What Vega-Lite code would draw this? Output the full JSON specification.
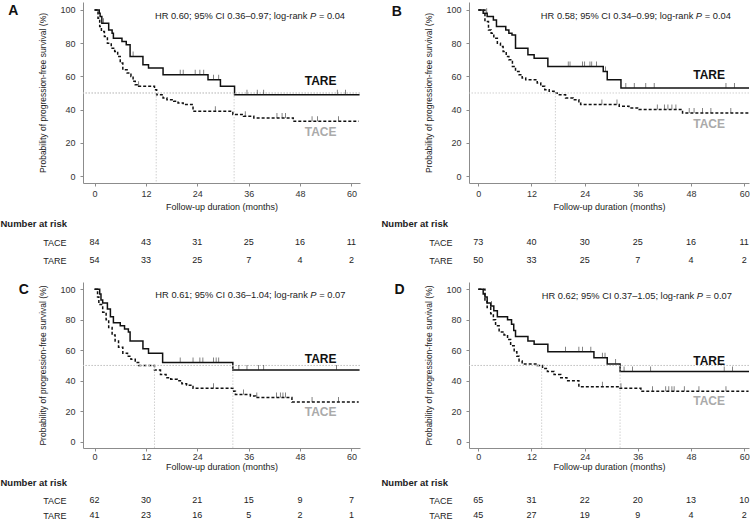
{
"$schema":"https://vega.github.io/schema/vega-lite/v6.json",
"padding":{"left":0,"top":2,"right":0,"bottom":0},
"config":{"view":{"stroke":null},"font":"Liberation Sans","axis":{"domainColor":"#8c8c8c","tickColor":"#8c8c8c","labelColor":"#333","labelFontSize":9,"titleFontSize":9,"titleFontWeight":"normal","titleColor":"#222","grid":false,"tickSize":3}},
"datasets":{
"curves":[
{"p":"A","g":"TARE","t":0,"s":100},{"p":"A","g":"TARE","t":1.1,"s":98},{"p":"A","g":"TARE","t":1.3,"s":96},{"p":"A","g":"TARE","t":1.7,"s":92},{"p":"A","g":"TARE","t":3.3,"s":88},{"p":"A","g":"TARE","t":4.1,"s":86},{"p":"A","g":"TARE","t":4.4,"s":83},{"p":"A","g":"TARE","t":6.4,"s":81},{"p":"A","g":"TARE","t":7.4,"s":79},{"p":"A","g":"TARE","t":8.3,"s":72},{"p":"A","g":"TARE","t":11.3,"s":67},{"p":"A","g":"TARE","t":12.6,"s":65},{"p":"A","g":"TARE","t":16.0,"s":61},{"p":"A","g":"TARE","t":26.5,"s":58},{"p":"A","g":"TARE","t":29.4,"s":54},{"p":"A","g":"TARE","t":32.7,"s":49},{"p":"A","g":"TARE","t":61.9,"s":49},
{"p":"A","g":"TACE","t":0,"s":100},{"p":"A","g":"TACE","t":0.8,"s":95},{"p":"A","g":"TACE","t":1.2,"s":90},{"p":"A","g":"TACE","t":1.6,"s":87},{"p":"A","g":"TACE","t":2.3,"s":84},{"p":"A","g":"TACE","t":3.0,"s":80},{"p":"A","g":"TACE","t":3.9,"s":77},{"p":"A","g":"TACE","t":4.7,"s":75},{"p":"A","g":"TACE","t":5.4,"s":72},{"p":"A","g":"TACE","t":6.0,"s":68},{"p":"A","g":"TACE","t":6.6,"s":64},{"p":"A","g":"TACE","t":7.6,"s":62},{"p":"A","g":"TACE","t":8.5,"s":60},{"p":"A","g":"TACE","t":9.0,"s":57},{"p":"A","g":"TACE","t":9.5,"s":55},{"p":"A","g":"TACE","t":10.3,"s":54},{"p":"A","g":"TACE","t":14.0,"s":52},{"p":"A","g":"TACE","t":14.5,"s":49},{"p":"A","g":"TACE","t":16.0,"s":47},{"p":"A","g":"TACE","t":16.9,"s":46},{"p":"A","g":"TACE","t":18.5,"s":45},{"p":"A","g":"TACE","t":19.5,"s":44},{"p":"A","g":"TACE","t":20.7,"s":43},{"p":"A","g":"TACE","t":23.0,"s":39},{"p":"A","g":"TACE","t":32.3,"s":37},{"p":"A","g":"TACE","t":34.8,"s":36},{"p":"A","g":"TACE","t":37.2,"s":35},{"p":"A","g":"TACE","t":46.4,"s":33},{"p":"A","g":"TACE","t":61.7,"s":33},
{"p":"B","g":"TARE","t":0,"s":100},{"p":"B","g":"TARE","t":1.1,"s":98},{"p":"B","g":"TARE","t":2.0,"s":96},{"p":"B","g":"TARE","t":3.4,"s":94},{"p":"B","g":"TARE","t":4.1,"s":90},{"p":"B","g":"TARE","t":6.2,"s":88},{"p":"B","g":"TARE","t":6.9,"s":86},{"p":"B","g":"TARE","t":7.6,"s":85},{"p":"B","g":"TARE","t":8.4,"s":77},{"p":"B","g":"TARE","t":11.2,"s":73},{"p":"B","g":"TARE","t":12.6,"s":71},{"p":"B","g":"TARE","t":15.7,"s":66},{"p":"B","g":"TARE","t":28.2,"s":63},{"p":"B","g":"TARE","t":29.1,"s":58},{"p":"B","g":"TARE","t":32.2,"s":53},{"p":"B","g":"TARE","t":61.1,"s":53},
{"p":"B","g":"TACE","t":0,"s":100},{"p":"B","g":"TACE","t":1.5,"s":93},{"p":"B","g":"TACE","t":2.3,"s":88},{"p":"B","g":"TACE","t":2.9,"s":86},{"p":"B","g":"TACE","t":3.5,"s":83},{"p":"B","g":"TACE","t":4.3,"s":80},{"p":"B","g":"TACE","t":5.0,"s":78},{"p":"B","g":"TACE","t":5.6,"s":75},{"p":"B","g":"TACE","t":6.3,"s":72},{"p":"B","g":"TACE","t":6.9,"s":70},{"p":"B","g":"TACE","t":7.7,"s":66},{"p":"B","g":"TACE","t":8.4,"s":63},{"p":"B","g":"TACE","t":9.2,"s":61},{"p":"B","g":"TACE","t":9.9,"s":59},{"p":"B","g":"TACE","t":10.7,"s":58},{"p":"B","g":"TACE","t":13.3,"s":56},{"p":"B","g":"TACE","t":14.1,"s":54},{"p":"B","g":"TACE","t":15.0,"s":52},{"p":"B","g":"TACE","t":16.0,"s":51},{"p":"B","g":"TACE","t":17.1,"s":50},{"p":"B","g":"TACE","t":17.8,"s":49},{"p":"B","g":"TACE","t":19.7,"s":47},{"p":"B","g":"TACE","t":21.4,"s":46},{"p":"B","g":"TACE","t":22.7,"s":44},{"p":"B","g":"TACE","t":23.1,"s":43},{"p":"B","g":"TACE","t":31.8,"s":42},{"p":"B","g":"TACE","t":34.0,"s":41},{"p":"B","g":"TACE","t":36.3,"s":40},{"p":"B","g":"TACE","t":46.1,"s":38},{"p":"B","g":"TACE","t":61.0,"s":38},
{"p":"C","g":"TARE","t":0,"s":100},{"p":"C","g":"TARE","t":1.2,"s":97},{"p":"C","g":"TARE","t":1.5,"s":93},{"p":"C","g":"TARE","t":1.9,"s":91},{"p":"C","g":"TARE","t":3.0,"s":87},{"p":"C","g":"TARE","t":3.7,"s":82},{"p":"C","g":"TARE","t":4.4,"s":78},{"p":"C","g":"TARE","t":6.0,"s":76},{"p":"C","g":"TARE","t":7.0,"s":74},{"p":"C","g":"TARE","t":7.9,"s":72},{"p":"C","g":"TARE","t":8.3,"s":66},{"p":"C","g":"TARE","t":11.3,"s":61},{"p":"C","g":"TARE","t":12.6,"s":58},{"p":"C","g":"TARE","t":15.9,"s":52},{"p":"C","g":"TARE","t":32.3,"s":47},{"p":"C","g":"TARE","t":61.9,"s":47},
{"p":"C","g":"TACE","t":0,"s":100},{"p":"C","g":"TACE","t":0.7,"s":95},{"p":"C","g":"TACE","t":1.0,"s":90},{"p":"C","g":"TACE","t":1.9,"s":85},{"p":"C","g":"TACE","t":2.7,"s":80},{"p":"C","g":"TACE","t":3.3,"s":75},{"p":"C","g":"TACE","t":4.1,"s":70},{"p":"C","g":"TACE","t":4.8,"s":66},{"p":"C","g":"TACE","t":5.6,"s":62},{"p":"C","g":"TACE","t":6.6,"s":58},{"p":"C","g":"TACE","t":7.7,"s":56},{"p":"C","g":"TACE","t":8.5,"s":54},{"p":"C","g":"TACE","t":9.5,"s":52},{"p":"C","g":"TACE","t":10.3,"s":50},{"p":"C","g":"TACE","t":14.0,"s":47},{"p":"C","g":"TACE","t":15.4,"s":44},{"p":"C","g":"TACE","t":16.7,"s":42},{"p":"C","g":"TACE","t":17.8,"s":41},{"p":"C","g":"TACE","t":19.3,"s":40},{"p":"C","g":"TACE","t":20.4,"s":38},{"p":"C","g":"TACE","t":21.5,"s":37},{"p":"C","g":"TACE","t":23.0,"s":35},{"p":"C","g":"TACE","t":32.5,"s":33},{"p":"C","g":"TACE","t":32.9,"s":31},{"p":"C","g":"TACE","t":36.4,"s":30},{"p":"C","g":"TACE","t":37.6,"s":29},{"p":"C","g":"TACE","t":46.1,"s":26},{"p":"C","g":"TACE","t":61.7,"s":26},
{"p":"D","g":"TARE","t":0,"s":100},{"p":"D","g":"TARE","t":1.1,"s":97},{"p":"D","g":"TARE","t":1.5,"s":95},{"p":"D","g":"TARE","t":2.0,"s":91},{"p":"D","g":"TARE","t":2.8,"s":89},{"p":"D","g":"TARE","t":3.5,"s":86},{"p":"D","g":"TARE","t":4.3,"s":82},{"p":"D","g":"TARE","t":6.6,"s":80},{"p":"D","g":"TARE","t":7.5,"s":77},{"p":"D","g":"TARE","t":8.0,"s":73},{"p":"D","g":"TARE","t":8.4,"s":69},{"p":"D","g":"TARE","t":11.2,"s":66},{"p":"D","g":"TARE","t":12.6,"s":64},{"p":"D","g":"TARE","t":15.7,"s":59},{"p":"D","g":"TARE","t":26.1,"s":55},{"p":"D","g":"TARE","t":29.1,"s":51},{"p":"D","g":"TARE","t":32.0,"s":46},{"p":"D","g":"TARE","t":61.1,"s":46},
{"p":"D","g":"TACE","t":0,"s":100},{"p":"D","g":"TACE","t":1.5,"s":92},{"p":"D","g":"TACE","t":2.0,"s":88},{"p":"D","g":"TACE","t":2.8,"s":84},{"p":"D","g":"TACE","t":3.4,"s":80},{"p":"D","g":"TACE","t":3.9,"s":76},{"p":"D","g":"TACE","t":4.7,"s":72},{"p":"D","g":"TACE","t":5.8,"s":70},{"p":"D","g":"TACE","t":6.6,"s":67},{"p":"D","g":"TACE","t":7.3,"s":63},{"p":"D","g":"TACE","t":8.1,"s":59},{"p":"D","g":"TACE","t":8.7,"s":56},{"p":"D","g":"TACE","t":9.2,"s":53},{"p":"D","g":"TACE","t":9.9,"s":51},{"p":"D","g":"TACE","t":13.3,"s":50},{"p":"D","g":"TACE","t":14.5,"s":48},{"p":"D","g":"TACE","t":15.6,"s":46},{"p":"D","g":"TACE","t":17.1,"s":44},{"p":"D","g":"TACE","t":18.6,"s":42},{"p":"D","g":"TACE","t":20.0,"s":40},{"p":"D","g":"TACE","t":22.7,"s":36},{"p":"D","g":"TACE","t":31.8,"s":35},{"p":"D","g":"TACE","t":36.7,"s":33},{"p":"D","g":"TACE","t":61.0,"s":33}
],
"cens":[
{"p":"A","t":2.1,"s":92},{"p":"A","t":9.0,"s":72},{"p":"A","t":20.0,"s":61},{"p":"A","t":20.7,"s":61},{"p":"A","t":23.5,"s":61},{"p":"A","t":24.6,"s":61},{"p":"A","t":25.5,"s":61},{"p":"A","t":27.8,"s":58},{"p":"A","t":29.0,"s":58},{"p":"A","t":35.6,"s":49},{"p":"A","t":38.0,"s":49},{"p":"A","t":39.5,"s":49},{"p":"A","t":56.7,"s":49},{"p":"A","t":58.6,"s":49},
{"p":"A","t":10.3,"s":54},{"p":"A","t":28.2,"s":39},{"p":"A","t":35.2,"s":36},{"p":"A","t":42.6,"s":35},{"p":"A","t":43.8,"s":35},{"p":"A","t":44.6,"s":35},{"p":"A","t":50.8,"s":33},{"p":"A","t":52.1,"s":33},{"p":"A","t":57.0,"s":33},
{"p":"B","t":1.9,"s":98},{"p":"B","t":20.3,"s":66},{"p":"B","t":20.7,"s":66},{"p":"B","t":23.5,"s":66},{"p":"B","t":24.0,"s":66},{"p":"B","t":25.2,"s":66},{"p":"B","t":25.6,"s":66},{"p":"B","t":26.7,"s":66},{"p":"B","t":28.7,"s":63},{"p":"B","t":33.3,"s":53},{"p":"B","t":35.2,"s":53},{"p":"B","t":37.8,"s":53},{"p":"B","t":39.7,"s":53},{"p":"B","t":55.9,"s":53},{"p":"B","t":57.8,"s":53},
{"p":"B","t":27.9,"s":43},{"p":"B","t":31.3,"s":43},{"p":"B","t":40.4,"s":40},{"p":"B","t":42.0,"s":40},{"p":"B","t":42.8,"s":40},{"p":"B","t":43.7,"s":40},{"p":"B","t":44.6,"s":40},{"p":"B","t":47.6,"s":38},{"p":"B","t":48.7,"s":38},{"p":"B","t":50.6,"s":38},{"p":"B","t":52.5,"s":38},{"p":"B","t":57.0,"s":38},
{"p":"C","t":20.0,"s":52},{"p":"C","t":23.0,"s":52},{"p":"C","t":24.6,"s":52},{"p":"C","t":25.3,"s":52},{"p":"C","t":27.8,"s":52},{"p":"C","t":28.4,"s":52},{"p":"C","t":29.0,"s":52},{"p":"C","t":33.7,"s":47},{"p":"C","t":35.6,"s":47},{"p":"C","t":38.3,"s":47},{"p":"C","t":39.5,"s":47},{"p":"C","t":56.5,"s":47},
{"p":"C","t":27.8,"s":35},{"p":"C","t":34.8,"s":31},{"p":"C","t":37.9,"s":29},{"p":"C","t":42.5,"s":29},{"p":"C","t":43.4,"s":29},{"p":"C","t":44.0,"s":29},{"p":"C","t":44.6,"s":29},{"p":"C","t":50.8,"s":26},{"p":"C","t":57.0,"s":26},
{"p":"D","t":3.0,"s":89},{"p":"D","t":19.7,"s":59},{"p":"D","t":22.7,"s":59},{"p":"D","t":23.5,"s":59},{"p":"D","t":25.4,"s":59},{"p":"D","t":28.0,"s":55},{"p":"D","t":28.6,"s":55},{"p":"D","t":31.0,"s":51},{"p":"D","t":32.9,"s":46},{"p":"D","t":34.8,"s":46},{"p":"D","t":38.9,"s":46},{"p":"D","t":55.5,"s":46},{"p":"D","t":57.4,"s":46},
{"p":"D","t":28.0,"s":36},{"p":"D","t":32.2,"s":35},{"p":"D","t":39.3,"s":33},{"p":"D","t":42.3,"s":33},{"p":"D","t":43.0,"s":33},{"p":"D","t":43.7,"s":33},{"p":"D","t":44.2,"s":33},{"p":"D","t":46.5,"s":33},{"p":"D","t":49.8,"s":33},{"p":"D","t":55.9,"s":33}
],
"risk":[
{"p":"A","g":"TACE","t":0,"n":84},{"p":"A","g":"TACE","t":12,"n":43},{"p":"A","g":"TACE","t":24,"n":31},{"p":"A","g":"TACE","t":36,"n":25},{"p":"A","g":"TACE","t":48,"n":16},{"p":"A","g":"TACE","t":60,"n":11},
{"p":"A","g":"TARE","t":0,"n":54},{"p":"A","g":"TARE","t":12,"n":33},{"p":"A","g":"TARE","t":24,"n":25},{"p":"A","g":"TARE","t":36,"n":7},{"p":"A","g":"TARE","t":48,"n":4},{"p":"A","g":"TARE","t":60,"n":2},
{"p":"B","g":"TACE","t":0,"n":73},{"p":"B","g":"TACE","t":12,"n":40},{"p":"B","g":"TACE","t":24,"n":30},{"p":"B","g":"TACE","t":36,"n":25},{"p":"B","g":"TACE","t":48,"n":16},{"p":"B","g":"TACE","t":60,"n":11},
{"p":"B","g":"TARE","t":0,"n":50},{"p":"B","g":"TARE","t":12,"n":33},{"p":"B","g":"TARE","t":24,"n":25},{"p":"B","g":"TARE","t":36,"n":7},{"p":"B","g":"TARE","t":48,"n":4},{"p":"B","g":"TARE","t":60,"n":2},
{"p":"C","g":"TACE","t":0,"n":62},{"p":"C","g":"TACE","t":12,"n":30},{"p":"C","g":"TACE","t":24,"n":21},{"p":"C","g":"TACE","t":36,"n":15},{"p":"C","g":"TACE","t":48,"n":9},{"p":"C","g":"TACE","t":60,"n":7},
{"p":"C","g":"TARE","t":0,"n":41},{"p":"C","g":"TARE","t":12,"n":23},{"p":"C","g":"TARE","t":24,"n":16},{"p":"C","g":"TARE","t":36,"n":5},{"p":"C","g":"TARE","t":48,"n":2},{"p":"C","g":"TARE","t":60,"n":1},
{"p":"D","g":"TACE","t":0,"n":65},{"p":"D","g":"TACE","t":12,"n":31},{"p":"D","g":"TACE","t":24,"n":22},{"p":"D","g":"TACE","t":36,"n":20},{"p":"D","g":"TACE","t":48,"n":13},{"p":"D","g":"TACE","t":60,"n":10},
{"p":"D","g":"TARE","t":0,"n":45},{"p":"D","g":"TARE","t":12,"n":27},{"p":"D","g":"TARE","t":24,"n":19},{"p":"D","g":"TARE","t":36,"n":9},{"p":"D","g":"TARE","t":48,"n":4},{"p":"D","g":"TARE","t":60,"n":2}
],
"med":[{"p":"A","g":"TACE","m":14.4},{"p":"A","g":"TARE","m":32.6},{"p":"B","g":"TACE","m":17.4},{"p":"C","g":"TACE","m":14.0},{"p":"C","g":"TARE","m":32.3},{"p":"D","g":"TACE","m":14.3},{"p":"D","g":"TARE","m":32.0}],
"lab":[{"g":"TARE"},{"g":"TACE"}],
"notes":[
{"p":"A","hr":"HR 0.60; 95% CI 0.36–0.97; log-rank","pi":"P","pv":"= 0.04"},
{"p":"B","hr":"HR 0.58; 95% CI 0.34–0.99; log-rank","pi":"P","pv":"= 0.04"},
{"p":"C","hr":"HR 0.61; 95% CI 0.36–1.04; log-rank","pi":"P","pv":"= 0.07"},
{"p":"D","hr":"HR 0.62; 95% CI 0.37–1.05; log-rank","pi":"P","pv":"= 0.07"}
]
},
"concat":[
{"vconcat":[
 {"width":277,"height":181,"layer":[
  {"data":{"name":"curves"},"transform":[{"filter":"datum.p==='A'"}],"mark":{"type":"line","interpolate":"step-after","color":"#111","strokeWidth":1.5},"encoding":{"x":{"field":"t","type":"quantitative","scale":{"domain":[-2.7,62],"nice":false,"zero":false},"axis":{"values":[0,12,24,36,48,60],"title":"Follow-up duration (months)","labelPadding":3,"titlePadding":4.5,"labelOverlap":false}},"y":{"field":"s","type":"quantitative","scale":{"domain":[-4.2,104.8],"nice":false,"zero":false},"axis":{"tickCount":6,"title":"Probability of progression-free survival (%)","labelPadding":5,"titlePadding":12,"titleFontSize":8.5,"labelOverlap":false}},"strokeDash":{"field":"g","type":"nominal","scale":{"domain":["TARE","TACE"],"range":[[1,0],[3,2]]},"legend":null}}},
  {"data":{"name":"med"},"transform":[{"filter":"datum.p==='A'"}],"mark":{"type":"rule","color":"#c4c4c4","strokeDash":[1.5,1.5],"strokeWidth":0.8},"encoding":{"y":{"datum":50,"type":"quantitative"}}},
  {"data":{"name":"med"},"transform":[{"filter":"datum.p==='A'"}],"mark":{"type":"rule","color":"#c4c4c4","strokeDash":[1.5,1.5],"strokeWidth":0.8},"encoding":{"x":{"field":"m","type":"quantitative"},"y":{"datum":50,"type":"quantitative"},"y2":{"datum":-4.2}}},
  {"data":{"name":"cens"},"transform":[{"filter":"datum.p==='A'"}],"mark":{"type":"tick","orient":"vertical","size":5,"thickness":0.8,"color":"#222","yOffset":-2.5},"encoding":{"x":{"field":"t","type":"quantitative"},"y":{"field":"s","type":"quantitative"}}},
  {"data":{"name":"lab"},"transform":[{"filter":"datum.g==='TARE'"}],"mark":{"type":"text","fontSize":12,"fontWeight":"bold","color":"#111"},"encoding":{"x":{"datum":52.8,"type":"quantitative"},"y":{"datum":57,"type":"quantitative"},"text":{"field":"g"}}},
  {"data":{"name":"lab"},"transform":[{"filter":"datum.g==='TACE'"}],"mark":{"type":"text","fontSize":12,"fontWeight":"bold","color":"#aaaaaa"},"encoding":{"x":{"datum":52.8,"type":"quantitative"},"y":{"datum":26.4,"type":"quantitative"},"text":{"field":"g"}}},
  {"data":{"name":"notes"},"transform":[{"filter":"datum.p==='A'"}],"mark":{"type":"text","align":"right","fontSize":9.3,"dx":-2.5,"color":"#222"},"encoding":{"x":{"datum":50.3,"type":"quantitative"},"y":{"datum":96.6,"type":"quantitative"},"text":{"field":"hr"}}},
  {"data":{"name":"notes"},"transform":[{"filter":"datum.p==='A'"}],"mark":{"type":"text","align":"left","fontSize":9.3,"fontStyle":"italic","color":"#222"},"encoding":{"x":{"datum":50.3,"type":"quantitative"},"y":{"datum":96.6,"type":"quantitative"},"text":{"field":"pi"}}},
  {"data":{"name":"notes"},"transform":[{"filter":"datum.p==='A'"}],"mark":{"type":"text","align":"left","fontSize":9.3,"dx":9,"color":"#222"},"encoding":{"x":{"datum":50.3,"type":"quantitative"},"y":{"datum":96.6,"type":"quantitative"},"text":{"field":"pv"}}},
  {"data":{"name":"notes"},"transform":[{"filter":"datum.p==='A'"}],"mark":{"type":"text","fontSize":14,"fontWeight":"bold","color":"#111"},"encoding":{"x":{"datum":-19,"type":"quantitative"},"y":{"datum":99.5,"type":"quantitative"},"text":{"field":"p"}}}
 ]},
 {"width":277,"height":36,"data":{"name":"risk"},"transform":[{"filter":"datum.p==='A'"}],"mark":{"type":"text","fontSize":9,"color":"#222"},"encoding":{"x":{"field":"t","type":"quantitative","scale":{"domain":[-2.7,62],"nice":false,"zero":false},"axis":null},"y":{"field":"g","type":"nominal","scale":{"domain":["TACE","TARE"]},"axis":{"title":"Number at risk","titleAngle":0,"titleAlign":"left","titleBaseline":"middle","titleX":-83,"titleY":-10,"titleFontWeight":"bold","titleFontSize":9.5,"titleColor":"#222","labelColor":"#222","labelFontSize":9,"ticks":false,"tickSize":0,"domain":false,"labelPadding":17}},"text":{"field":"n"}}}
],"spacing":6},
{"vconcat":[
 {"width":280,"height":181,"layer":[
  {"data":{"name":"curves"},"transform":[{"filter":"datum.p==='B'"}],"mark":{"type":"line","interpolate":"step-after","color":"#111","strokeWidth":1.5},"encoding":{"x":{"field":"t","type":"quantitative","scale":{"domain":[-2.1,61.1],"nice":false,"zero":false},"axis":{"values":[0,12,24,36,48,60],"title":"Follow-up duration (months)","labelPadding":3,"titlePadding":4.5,"labelOverlap":false}},"y":{"field":"s","type":"quantitative","scale":{"domain":[-4.2,104.8],"nice":false,"zero":false},"axis":{"tickCount":6,"title":"Probability of progression-free survival (%)","labelPadding":5,"titlePadding":12,"titleFontSize":8.5,"labelOverlap":false}},"strokeDash":{"field":"g","type":"nominal","scale":{"domain":["TARE","TACE"],"range":[[1,0],[3,2]]},"legend":null}}},
  {"data":{"name":"med"},"transform":[{"filter":"datum.p==='B'"}],"mark":{"type":"rule","color":"#c4c4c4","strokeDash":[1.5,1.5],"strokeWidth":0.8},"encoding":{"y":{"datum":50,"type":"quantitative"}}},
  {"data":{"name":"med"},"transform":[{"filter":"datum.p==='B'"}],"mark":{"type":"rule","color":"#c4c4c4","strokeDash":[1.5,1.5],"strokeWidth":0.8},"encoding":{"x":{"field":"m","type":"quantitative"},"y":{"datum":50,"type":"quantitative"},"y2":{"datum":-4.2}}},
  {"data":{"name":"cens"},"transform":[{"filter":"datum.p==='B'"}],"mark":{"type":"tick","orient":"vertical","size":5,"thickness":0.8,"color":"#222","yOffset":-2.5},"encoding":{"x":{"field":"t","type":"quantitative"},"y":{"field":"s","type":"quantitative"}}},
  {"data":{"name":"lab"},"transform":[{"filter":"datum.g==='TARE'"}],"mark":{"type":"text","fontSize":12,"fontWeight":"bold","color":"#111"},"encoding":{"x":{"datum":52.1,"type":"quantitative"},"y":{"datum":61,"type":"quantitative"},"text":{"field":"g"}}},
  {"data":{"name":"lab"},"transform":[{"filter":"datum.g==='TACE'"}],"mark":{"type":"text","fontSize":12,"fontWeight":"bold","color":"#aaaaaa"},"encoding":{"x":{"datum":52.1,"type":"quantitative"},"y":{"datum":31.4,"type":"quantitative"},"text":{"field":"g"}}},
  {"data":{"name":"notes"},"transform":[{"filter":"datum.p==='B'"}],"mark":{"type":"text","align":"right","fontSize":9.3,"dx":-2.5,"color":"#222"},"encoding":{"x":{"datum":49.1,"type":"quantitative"},"y":{"datum":96.6,"type":"quantitative"},"text":{"field":"hr"}}},
  {"data":{"name":"notes"},"transform":[{"filter":"datum.p==='B'"}],"mark":{"type":"text","align":"left","fontSize":9.3,"fontStyle":"italic","color":"#222"},"encoding":{"x":{"datum":49.1,"type":"quantitative"},"y":{"datum":96.6,"type":"quantitative"},"text":{"field":"pi"}}},
  {"data":{"name":"notes"},"transform":[{"filter":"datum.p==='B'"}],"mark":{"type":"text","align":"left","fontSize":9.3,"dx":9,"color":"#222"},"encoding":{"x":{"datum":49.1,"type":"quantitative"},"y":{"datum":96.6,"type":"quantitative"},"text":{"field":"pv"}}},
  {"data":{"name":"notes"},"transform":[{"filter":"datum.p==='B'"}],"mark":{"type":"text","fontSize":14,"fontWeight":"bold","color":"#111"},"encoding":{"x":{"datum":-18.4,"type":"quantitative"},"y":{"datum":98.8,"type":"quantitative"},"text":{"field":"p"}}}
 ]},
 {"width":280,"height":36,"data":{"name":"risk"},"transform":[{"filter":"datum.p==='B'"}],"mark":{"type":"text","fontSize":9,"color":"#222"},"encoding":{"x":{"field":"t","type":"quantitative","scale":{"domain":[-2.1,61.1],"nice":false,"zero":false},"axis":null},"y":{"field":"g","type":"nominal","scale":{"domain":["TACE","TARE"]},"axis":{"title":"Number at risk","titleAngle":0,"titleAlign":"left","titleBaseline":"middle","titleX":-88,"titleY":-10,"titleFontWeight":"bold","titleFontSize":9.5,"titleColor":"#222","labelColor":"#222","labelFontSize":9,"ticks":false,"tickSize":0,"domain":false,"labelPadding":17}},"text":{"field":"n"}}}
],"spacing":6},
{"vconcat":[
 {"width":277,"height":166,"layer":[
  {"data":{"name":"curves"},"transform":[{"filter":"datum.p==='C'"}],"mark":{"type":"line","interpolate":"step-after","color":"#111","strokeWidth":1.5},"encoding":{"x":{"field":"t","type":"quantitative","scale":{"domain":[-2.7,62],"nice":false,"zero":false},"axis":{"values":[0,12,24,36,48,60],"title":"Follow-up duration (months)","labelPadding":1,"titlePadding":1,"labelOverlap":false}},"y":{"field":"s","type":"quantitative","scale":{"domain":[-4.2,104.8],"nice":false,"zero":false},"axis":{"tickCount":6,"title":"Probability of progression-free survival (%)","labelPadding":5,"titlePadding":12,"titleFontSize":8.5,"labelOverlap":false}},"strokeDash":{"field":"g","type":"nominal","scale":{"domain":["TARE","TACE"],"range":[[1,0],[3,2]]},"legend":null}}},
  {"data":{"name":"med"},"transform":[{"filter":"datum.p==='C'"}],"mark":{"type":"rule","color":"#c4c4c4","strokeDash":[1.5,1.5],"strokeWidth":0.8},"encoding":{"y":{"datum":50,"type":"quantitative"}}},
  {"data":{"name":"med"},"transform":[{"filter":"datum.p==='C'"}],"mark":{"type":"rule","color":"#c4c4c4","strokeDash":[1.5,1.5],"strokeWidth":0.8},"encoding":{"x":{"field":"m","type":"quantitative"},"y":{"datum":50,"type":"quantitative"},"y2":{"datum":-4.2}}},
  {"data":{"name":"cens"},"transform":[{"filter":"datum.p==='C'"}],"mark":{"type":"tick","orient":"vertical","size":5,"thickness":0.8,"color":"#222","yOffset":-2.5},"encoding":{"x":{"field":"t","type":"quantitative"},"y":{"field":"s","type":"quantitative"}}},
  {"data":{"name":"lab"},"transform":[{"filter":"datum.g==='TARE'"}],"mark":{"type":"text","fontSize":12,"fontWeight":"bold","color":"#111"},"encoding":{"x":{"datum":52.8,"type":"quantitative"},"y":{"datum":54.3,"type":"quantitative"},"text":{"field":"g"}}},
  {"data":{"name":"lab"},"transform":[{"filter":"datum.g==='TACE'"}],"mark":{"type":"text","fontSize":12,"fontWeight":"bold","color":"#aaaaaa"},"encoding":{"x":{"datum":52.8,"type":"quantitative"},"y":{"datum":19.3,"type":"quantitative"},"text":{"field":"g"}}},
  {"data":{"name":"notes"},"transform":[{"filter":"datum.p==='C'"}],"mark":{"type":"text","align":"right","fontSize":9.3,"dx":-2.5,"color":"#222"},"encoding":{"x":{"datum":50.4,"type":"quantitative"},"y":{"datum":96.1,"type":"quantitative"},"text":{"field":"hr"}}},
  {"data":{"name":"notes"},"transform":[{"filter":"datum.p==='C'"}],"mark":{"type":"text","align":"left","fontSize":9.3,"fontStyle":"italic","color":"#222"},"encoding":{"x":{"datum":50.4,"type":"quantitative"},"y":{"datum":96.1,"type":"quantitative"},"text":{"field":"pi"}}},
  {"data":{"name":"notes"},"transform":[{"filter":"datum.p==='C'"}],"mark":{"type":"text","align":"left","fontSize":9.3,"dx":9,"color":"#222"},"encoding":{"x":{"datum":50.4,"type":"quantitative"},"y":{"datum":96.1,"type":"quantitative"},"text":{"field":"pv"}}},
  {"data":{"name":"notes"},"transform":[{"filter":"datum.p==='C'"}],"mark":{"type":"text","fontSize":14,"fontWeight":"bold","color":"#111"},"encoding":{"x":{"datum":-16.5,"type":"quantitative"},"y":{"datum":99.3,"type":"quantitative"},"text":{"field":"p"}}}
 ]},
 {"width":277,"height":29.6,"data":{"name":"risk"},"transform":[{"filter":"datum.p==='C'"}],"mark":{"type":"text","fontSize":9,"color":"#222"},"encoding":{"x":{"field":"t","type":"quantitative","scale":{"domain":[-2.7,62],"nice":false,"zero":false},"axis":null},"y":{"field":"g","type":"nominal","scale":{"domain":["TACE","TARE"]},"axis":{"title":"Number at risk","titleAngle":0,"titleAlign":"left","titleBaseline":"middle","titleX":-83,"titleY":-10.5,"titleFontWeight":"bold","titleFontSize":9.5,"titleColor":"#222","labelColor":"#222","labelFontSize":9,"ticks":false,"tickSize":0,"domain":false,"labelPadding":17}},"text":{"field":"n"}}}
],"spacing":6},
{"vconcat":[
 {"width":280,"height":166,"layer":[
  {"data":{"name":"curves"},"transform":[{"filter":"datum.p==='D'"}],"mark":{"type":"line","interpolate":"step-after","color":"#111","strokeWidth":1.5},"encoding":{"x":{"field":"t","type":"quantitative","scale":{"domain":[-2.1,61.1],"nice":false,"zero":false},"axis":{"values":[0,12,24,36,48,60],"title":"Follow-up duration (months)","labelPadding":1,"titlePadding":1,"labelOverlap":false}},"y":{"field":"s","type":"quantitative","scale":{"domain":[-4.2,104.8],"nice":false,"zero":false},"axis":{"tickCount":6,"title":"Probability of progression-free survival (%)","labelPadding":5,"titlePadding":12,"titleFontSize":8.5,"labelOverlap":false}},"strokeDash":{"field":"g","type":"nominal","scale":{"domain":["TARE","TACE"],"range":[[1,0],[3,2]]},"legend":null}}},
  {"data":{"name":"med"},"transform":[{"filter":"datum.p==='D'"}],"mark":{"type":"rule","color":"#c4c4c4","strokeDash":[1.5,1.5],"strokeWidth":0.8},"encoding":{"y":{"datum":50,"type":"quantitative"}}},
  {"data":{"name":"med"},"transform":[{"filter":"datum.p==='D'"}],"mark":{"type":"rule","color":"#c4c4c4","strokeDash":[1.5,1.5],"strokeWidth":0.8},"encoding":{"x":{"field":"m","type":"quantitative"},"y":{"datum":50,"type":"quantitative"},"y2":{"datum":-4.2}}},
  {"data":{"name":"cens"},"transform":[{"filter":"datum.p==='D'"}],"mark":{"type":"tick","orient":"vertical","size":5,"thickness":0.8,"color":"#222","yOffset":-2.5},"encoding":{"x":{"field":"t","type":"quantitative"},"y":{"field":"s","type":"quantitative"}}},
  {"data":{"name":"lab"},"transform":[{"filter":"datum.g==='TARE'"}],"mark":{"type":"text","fontSize":12,"fontWeight":"bold","color":"#111"},"encoding":{"x":{"datum":52.1,"type":"quantitative"},"y":{"datum":52.7,"type":"quantitative"},"text":{"field":"g"}}},
  {"data":{"name":"lab"},"transform":[{"filter":"datum.g==='TACE'"}],"mark":{"type":"text","fontSize":12,"fontWeight":"bold","color":"#aaaaaa"},"encoding":{"x":{"datum":52.1,"type":"quantitative"},"y":{"datum":26.4,"type":"quantitative"},"text":{"field":"g"}}},
  {"data":{"name":"notes"},"transform":[{"filter":"datum.p==='D'"}],"mark":{"type":"text","align":"right","fontSize":9.3,"dx":-2.5,"color":"#222"},"encoding":{"x":{"datum":49.3,"type":"quantitative"},"y":{"datum":95.6,"type":"quantitative"},"text":{"field":"hr"}}},
  {"data":{"name":"notes"},"transform":[{"filter":"datum.p==='D'"}],"mark":{"type":"text","align":"left","fontSize":9.3,"fontStyle":"italic","color":"#222"},"encoding":{"x":{"datum":49.3,"type":"quantitative"},"y":{"datum":95.6,"type":"quantitative"},"text":{"field":"pi"}}},
  {"data":{"name":"notes"},"transform":[{"filter":"datum.p==='D'"}],"mark":{"type":"text","align":"left","fontSize":9.3,"dx":9,"color":"#222"},"encoding":{"x":{"datum":49.3,"type":"quantitative"},"y":{"datum":95.6,"type":"quantitative"},"text":{"field":"pv"}}},
  {"data":{"name":"notes"},"transform":[{"filter":"datum.p==='D'"}],"mark":{"type":"text","fontSize":14,"fontWeight":"bold","color":"#111"},"encoding":{"x":{"datum":-17.8,"type":"quantitative"},"y":{"datum":99.5,"type":"quantitative"},"text":{"field":"p"}}}
 ]},
 {"width":280,"height":29.6,"data":{"name":"risk"},"transform":[{"filter":"datum.p==='D'"}],"mark":{"type":"text","fontSize":9,"color":"#222"},"encoding":{"x":{"field":"t","type":"quantitative","scale":{"domain":[-2.1,61.1],"nice":false,"zero":false},"axis":null},"y":{"field":"g","type":"nominal","scale":{"domain":["TACE","TARE"]},"axis":{"title":"Number at risk","titleAngle":0,"titleAlign":"left","titleBaseline":"middle","titleX":-88,"titleY":-10.5,"titleFontWeight":"bold","titleFontSize":9.5,"titleColor":"#222","labelColor":"#222","labelFontSize":9,"ticks":false,"tickSize":0,"domain":false,"labelPadding":17}},"text":{"field":"n"}}}
],"spacing":6}
],
"columns":2,
"align":"each",
"spacing":{"row":13,"column":18}
}
